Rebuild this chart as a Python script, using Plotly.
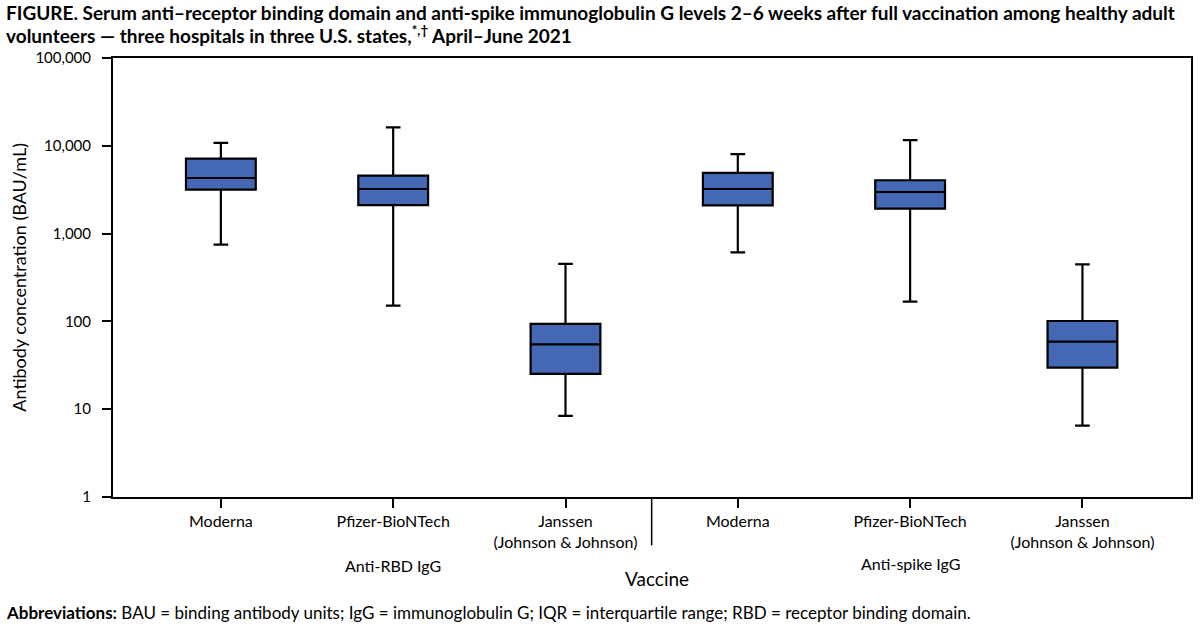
import plotly.graph_objects as go

# Data (BAU/mL)
positions = [0, 1, 2, 3, 4, 5]
tick_labels = ["Moderna", "Pfizer-BioNTech", "Janssen<br>(Johnson & Johnson)",
               "Moderna", "Pfizer-BioNTech", "Janssen<br>(Johnson & Johnson)"]
group_labels = ["Anti-RBD IgG", "Anti-spike IgG"]
whisker_low = [750, 151, 8.4, 610, 168, 6.5]
q1_vals = [3170, 2115, 25.2, 2100, 1925, 29.7]
median_vals = [4300, 3220, 54.8, 3220, 2977, 58.8]
q3_vals = [7160, 4580, 93.6, 4910, 4050, 101]
whisker_high = [10800, 16180, 453, 8020, 11590, 445]
y_tickvals = [1, 10, 100, 1000, 10000, 100000]
y_ticktext = ["1", "10", "100", "1,000", "10,000", "100,000"]

FONT = "Lato"
BLUE = "#4468B4"

L, R, T, B = 113, 7, 58, 128
PW, PH = 1200 - L - R, 625 - T - B


def px_x(x):
    return (x - L) / PW


def px_y(y):
    return (625 - B - y) / PH


fig = go.Figure()
fig.add_trace(go.Box(
    x=positions,
    q1=q1_vals, median=median_vals, q3=q3_vals,
    lowerfence=whisker_low, upperfence=whisker_high,
    width=0.405, whiskerwidth=0.21,
    fillcolor=BLUE,
    line=dict(color="black", width=2.2),
    boxpoints=False,
    hoverinfo="skip",
    showlegend=False,
))

fig.update_layout(
    width=1200, height=625,
    margin=dict(l=L, r=R, t=T, b=B),
    paper_bgcolor="white", plot_bgcolor="white",
    font=dict(family=FONT, size=15, color="black"),
    xaxis=dict(
        range=[-0.626, 5.63],
        tickmode="array", tickvals=positions, ticktext=tick_labels,
        ticks="outside", ticklen=9, tickwidth=1.5, tickcolor="black",
        showline=True, linecolor="black", linewidth=2, mirror=True,
        showgrid=False, zeroline=False,
        tickfont=dict(family=FONT, size=16),
    ),
    yaxis=dict(
        type="log", range=[0, 5],
        tickmode="array", tickvals=y_tickvals, ticktext=y_ticktext,
        ticks="outside", ticklen=9, tickwidth=1.5, tickcolor="black",
        ticklabelstandoff=8,
        showline=True, linecolor="black", linewidth=2, mirror=True,
        showgrid=False, zeroline=False,
        tickfont=dict(family=FONT, size=15),
    ),
)

# separator between the two groups
fig.add_shape(type="line", xref="x", yref="paper", x0=2.5, x1=2.5, y0=0, y1=-0.11,
              line=dict(color="black", width=1.5))

title_line1 = "<b>FIGURE. Serum anti–receptor binding domain and anti-spike immunoglobulin G levels 2–6 weeks after full vaccination among healthy adult</b>"
title_line2 = "<b>volunteers — three hospitals in three U.S. states,<sup>*,†</sup> April–June 2021</b>"

annotations = [
    dict(text=title_line1, x=px_x(4), y=px_y(13), xref="paper", yref="paper",
         showarrow=False, xanchor="left", yanchor="middle", align="left",
         font=dict(size=19)),
    dict(text=title_line2, x=px_x(4), y=px_y(35), xref="paper", yref="paper",
         showarrow=False, xanchor="left", yanchor="middle", align="left",
         font=dict(size=19)),
    dict(text=group_labels[0], x=1, y=px_y(565), xref="x", yref="paper",
         showarrow=False, yanchor="middle", font=dict(size=16)),
    dict(text=group_labels[1], x=4, y=px_y(563), xref="x", yref="paper",
         showarrow=False, yanchor="middle", font=dict(size=16)),
    dict(text="Vaccine", x=2.53, y=px_y(578), xref="x", yref="paper",
         showarrow=False, yanchor="middle", font=dict(size=19)),
    dict(text="Antibody concentration (BAU/mL)", x=px_x(18), y=0.5,
         xref="paper", yref="paper", textangle=-90, showarrow=False,
         xanchor="center", yanchor="middle", font=dict(size=18)),
    dict(text="<b>Abbreviations:</b> BAU = binding antibody units; IgG = immunoglobulin G; IQR = interquartile range; RBD = receptor binding domain.",
         x=px_x(4), y=px_y(612), xref="paper", yref="paper", showarrow=False,
         xanchor="left", yanchor="middle", font=dict(size=17)),
]
fig.update_layout(annotations=annotations)

fig.write_html("out.html", post_script="document.body.style.margin='0';",
               config={"displayModeBar": False})
